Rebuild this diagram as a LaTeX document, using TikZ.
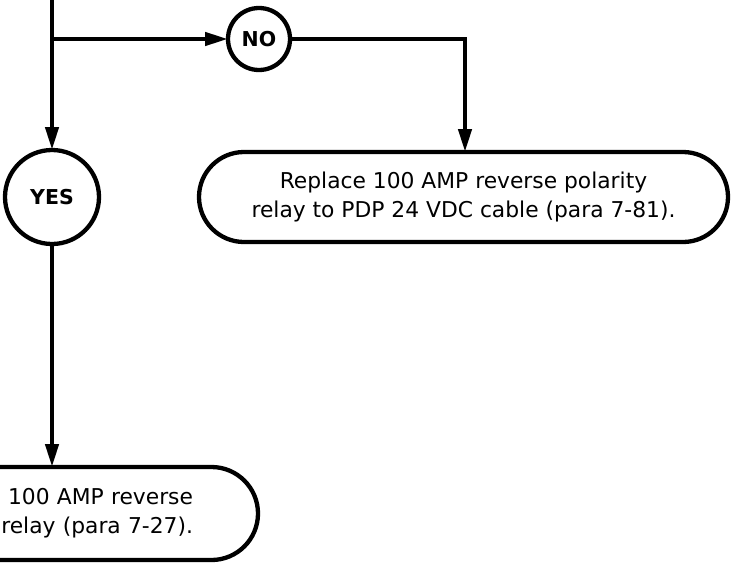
\documentclass[tikz,border=0pt]{standalone}
\usepackage{fontspec}
\setmainfont{DejaVu Sans}
\usetikzlibrary{arrows.meta,shapes.misc}
\begin{document}
\begin{tikzpicture}[x=1pt,y=-1pt,
  line width=4.3pt,
  conn/.style={-{Triangle[length=23pt,width=13pt]}},
  answer/.style={circle,draw,line width=4.3pt,inner sep=0pt,outer sep=0pt,font=\bfseries\fontsize{20.5}{24}\selectfont},
  action/.style={rounded rectangle,draw,line width=4.3pt,outer sep=0pt,inner xsep=0pt,font=\fontsize{21.8}{29}\selectfont}
]
\useasboundingbox (0,0) rectangle (735,565);
\node[answer,minimum size=62pt] (no) at (259,39) {NO};
\node[answer,minimum size=94pt] (yes) at (52,197) {YES};
\node[action,minimum width=529pt,minimum height=90pt,align=center] (repl) at (463.5,197) {Replace 100 AMP reverse polarity\\relay to PDP 24 VDC cable (para 7-81).};
\node[action,minimum width=330pt,minimum height=93pt,text width=200pt,align=right,anchor=east] (fix) at (258,513.5) {100 AMP reverse\\relay (para 7-27).};
\coordinate (top) at (52,-5);
\coordinate (br) at (52,39);
\coordinate (corner) at (465,39);
\draw[conn] (top) -- (yes.north);
\draw[conn] (br) -- (no.west);
\draw[conn] (no.east) -- (corner) -- (repl.north -| corner);
\draw[conn] (yes.south) -- (fix.north -| yes);
\end{tikzpicture}
\end{document}
